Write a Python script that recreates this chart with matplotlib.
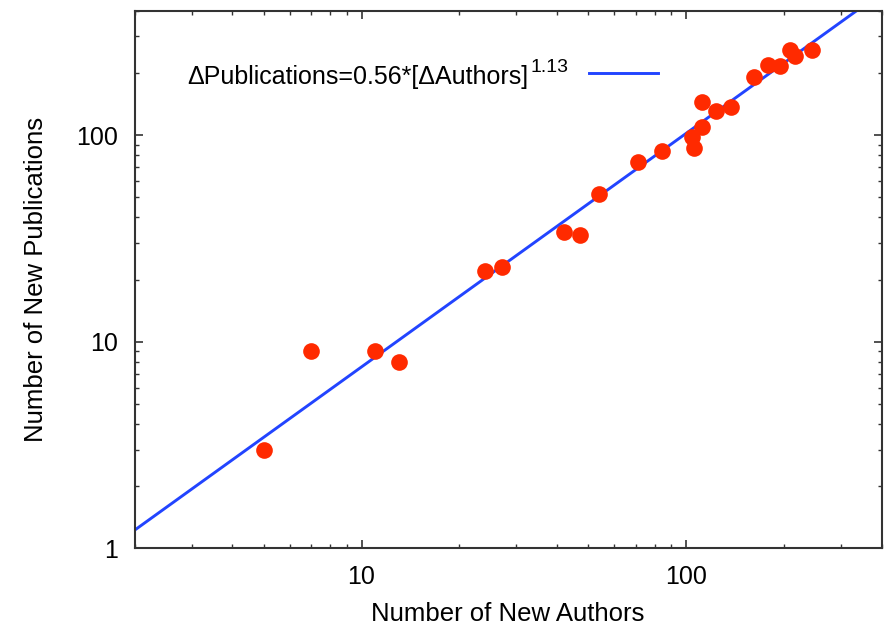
import numpy as np
from matplotlib import pyplot as plt

plt.rcParams['font.family'] = ['Liberation Sans', 'DejaVu Sans']

# data
new_authors = [5, 7, 11, 13, 24, 27, 42, 47, 54, 71, 84, 104, 106, 112, 112,
               124, 137, 162, 179, 195, 209, 217, 245]
new_pubs = [3, 9, 9, 8, 22, 23, 34, 33, 52, 74, 84, 98, 87, 110, 144,
            131, 136, 190, 218, 216, 258, 241, 258]

fit_a = 0.56
fit_b = 1.13
line_col = '#2244ff'

fig = plt.figure(figsize=(8.86, 6.26), dpi=100)
ax = fig.add_axes([0.152, 0.124, 0.843, 0.859])

xs = np.logspace(np.log10(2), np.log10(400), 200)
ax.plot(xs, fit_a * xs ** fit_b, color=line_col, lw=2.1, zorder=2)
ax.plot(new_authors, new_pubs, 'o', color='#ff2a00', ms=12, mec='none', zorder=3)

ax.set_xscale('log')
ax.set_yscale('log')
ax.set_xlim(2, 400)
ax.set_ylim(1, 400)

ax.set_xticks([10, 100])
ax.set_xticklabels(['10', '100'])
ax.set_yticks([1, 10, 100])
ax.set_yticklabels(['1', '10', '100'])

ax.tick_params(which='both', direction='in', top=True, right=True,
               color='#333333', labelsize=18)
ax.tick_params(which='major', length=6, width=1.2, pad=12)
ax.tick_params(which='minor', length=3, width=1.0)
for s in ax.spines.values():
    s.set_color('#333333')
    s.set_linewidth(1.5)

ax.set_xlabel('Number of New Authors', fontsize=18.5, labelpad=9)
ax.set_ylabel('Number of New Publications', fontsize=18.5, labelpad=20)

# key, gnuplot style: text then sample line
main = ax.text(0.070, 0.8637, 'ΔPublications=0.56*[ΔAuthors]', fontsize=18,
               va='baseline', ha='left', transform=ax.transAxes)
fig.canvas.draw()
bb = main.get_window_extent(fig.canvas.get_renderer())
base_px = ax.transAxes.transform((0.070, 0.8637))[1]
sx, sy = ax.transAxes.inverted().transform((bb.x1 + 2, base_px + 12))
ax.text(sx, sy, '1.13', fontsize=14, va='baseline', ha='left',
        transform=ax.transAxes)
ax.plot([0.608, 0.7005], [0.8847, 0.8847], color=line_col, lw=2.1,
        transform=ax.transAxes)

plt.savefig('out.png')
